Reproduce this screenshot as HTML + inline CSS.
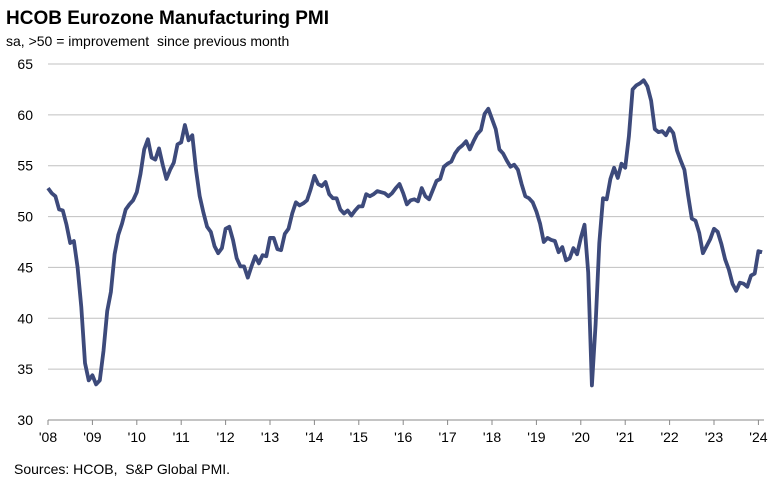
<!DOCTYPE html>
<html><head><meta charset="utf-8"><style>
body{margin:0;background:#fff;font-family:"Liberation Sans",Arial,sans-serif;}
#wrap{position:relative;width:784px;height:485px;overflow:hidden}
text{white-space:pre}
</style></head><body>
<div id="wrap">
<svg id="c" width="784" height="485" xmlns="http://www.w3.org/2000/svg">
<text x="6" y="24" font-size="19" font-weight="bold" fill="#000">HCOB Eurozone Manufacturing PMI</text>
<text x="6" y="46" font-size="14" fill="#000" xml:space="preserve">sa, &gt;50 = improvement  since previous month</text>
<text x="14" y="474" font-size="14" fill="#000" xml:space="preserve">Sources: HCOB,  S&amp;P Global PMI.</text>
<g id="grid"></g><g id="axes"></g><g id="series"></g>
</svg>
</div>
<script>
const yTicks=[30,35,40,45,50,55,60,65];
const xLabels=["'08","'09","'10","'11","'12","'13","'14","'15","'16","'17","'18","'19","'20","'21","'22","'23","'24"];
const pmi=[52.8,52.3,52.0,50.7,50.6,49.2,47.4,47.6,45.0,41.1,35.6,33.9,
34.4,33.5,33.9,36.8,40.7,42.6,46.3,48.2,49.3,50.7,51.2,51.6,
52.4,54.2,56.6,57.6,55.8,55.6,56.7,55.1,53.7,54.6,55.3,57.1,
57.3,59.0,57.5,58.0,54.6,52.0,50.4,49.0,48.5,47.1,46.4,46.9,
48.8,49.0,47.7,45.9,45.1,45.1,44.0,45.1,46.1,45.4,46.2,46.1,
47.9,47.9,46.8,46.7,48.3,48.8,50.3,51.4,51.1,51.3,51.6,52.7,
54.0,53.2,53.0,53.4,52.2,51.8,51.8,50.7,50.3,50.6,50.1,50.6,
51.0,51.0,52.2,52.0,52.2,52.5,52.4,52.3,52.0,52.3,52.8,53.2,
52.3,51.2,51.6,51.7,51.5,52.8,52.0,51.7,52.6,53.5,53.7,54.9,
55.2,55.4,56.2,56.7,57.0,57.4,56.6,57.4,58.1,58.5,60.1,60.6,
59.6,58.6,56.6,56.2,55.5,54.9,55.1,54.6,53.2,52.0,51.8,51.4,
50.5,49.3,47.5,47.9,47.7,47.6,46.5,47.0,45.7,45.9,46.9,46.3,
47.9,49.2,44.5,33.4,39.4,47.4,51.8,51.7,53.7,54.8,53.8,55.2,
54.8,57.9,62.5,62.9,63.1,63.4,62.8,61.4,58.6,58.3,58.4,58.0,
58.7,58.2,56.5,55.5,54.6,52.1,49.8,49.6,48.4,46.4,47.1,47.8,
48.8,48.5,47.3,45.8,44.8,43.4,42.7,43.5,43.4,43.1,44.2,44.4,
46.6,46.5];
const NS="http://www.w3.org/2000/svg";
const X0=48,XW=3.7,Y0=420,YPX=356/35;
const x=i=>X0+i*XW;
const y=v=>Y0-(v-30)*YPX;
const grid=document.getElementById('grid'),axes=document.getElementById('axes'),ser=document.getElementById('series');
function mk(tag,at,parent){const e=document.createElementNS(NS,tag);for(const k in at)e.setAttribute(k,at[k]);parent.appendChild(e);return e;}
yTicks.forEach(t=>{
  const l=mk('line',{x1:48,x2:764,y1:y(t),y2:y(t),stroke:t===30?'#888':'#c0c0c0','stroke-width':1},grid);
  
  
  const tx=mk('text',{x:33,y:y(t)+5,'font-size':14,'text-anchor':'end',fill:'#000'},axes);
  tx.textContent=t;
  
  
});
xLabels.forEach((s,i)=>{
  const xx=x(i*12);
  const tk=mk('line',{x1:xx,x2:xx,y1:420,y2:425,stroke:'#888'},axes);
  
  
  const tx=mk('text',{x:xx,y:442,'font-size':14,'text-anchor':'middle',fill:'#000'},axes);
  tx.textContent=s;
  
  
});
const p=mk('polyline',{points:pmi.map((v,i)=>x(i)+','+y(v)).join(' '),fill:'none',stroke:'#3d4a7b','stroke-width':3.8,'stroke-linejoin':'round'},ser);


</script>
</body></html>
